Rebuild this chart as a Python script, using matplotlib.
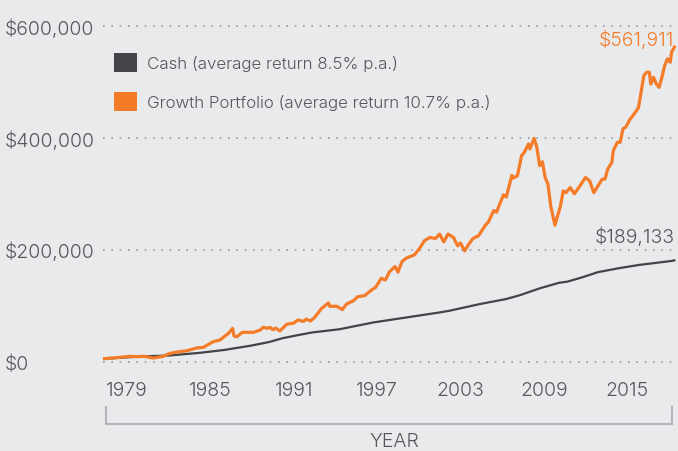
import matplotlib.pyplot as plt
from matplotlib.patches import Patch
from matplotlib.lines import Line2D
from matplotlib.ticker import FuncFormatter

# Growth portfolio (years, value in $k)
growth_years = [1977.25, 1977.8, 1978.4, 1979.2, 1979.7, 1980.2, 1980.9, 1981.6, 1982.1, 1982.8,
                1983.3, 1984.0, 1984.5, 1985.2, 1985.7, 1986.3, 1986.6, 1986.7, 1986.9, 1987.3,
                1988.1, 1988.6, 1988.8, 1989.1, 1989.3, 1989.5, 1989.7, 1990.0, 1990.5, 1991.0,
                1991.3, 1991.7, 1991.9, 1992.2, 1992.5, 1993.0, 1993.5, 1993.6, 1994.1, 1994.5,
                1994.8, 1995.3, 1995.6, 1996.1, 1996.6, 1996.9, 1997.3, 1997.6, 1997.9, 1998.3,
                1998.5, 1998.8, 1999.1, 1999.5, 1999.7, 2000.1, 2000.4, 2000.8, 2001.2, 2001.5,
                2001.8, 2002.1, 2002.5, 2002.8, 2003.0, 2003.3, 2003.6, 2003.9, 2004.3, 2004.8,
                2005.0, 2005.4, 2005.6, 2005.8, 2006.1, 2006.3, 2006.7, 2006.8, 2007.1, 2007.4,
                2007.6, 2007.9, 2008.0, 2008.3, 2008.5, 2008.7, 2008.9, 2009.1, 2009.3, 2009.5,
                2009.8, 2010.2, 2010.4, 2010.6, 2010.9, 2011.2, 2011.6, 2012.0, 2012.3, 2012.6,
                2012.8, 2013.2, 2013.4, 2013.6, 2013.9, 2014.0, 2014.3, 2014.5, 2014.7, 2014.9,
                2015.2, 2015.4, 2015.8, 2015.9, 2016.2, 2016.4, 2016.6, 2016.7, 2016.9, 2017.1,
                2017.3, 2017.5, 2017.7, 2017.9, 2018.1, 2018.2, 2018.4]
growth_k = [5, 6.5, 7.5, 9.6, 9.0, 9.6, 6.6, 9.6, 15, 18,
            19.6, 24.5, 25.7, 35.7, 39, 50.7, 59.6, 46, 44.6, 52.5,
            52.5, 56.6, 61.4, 59.6, 61.4, 57, 60, 55, 67, 69,
            74.5, 72, 76, 72.7, 79, 95, 105, 99, 99, 93,
            103, 109, 116, 118, 128, 133, 149, 146, 161, 170,
            160, 179, 185, 189, 191, 204, 216, 222, 220, 228,
            214, 228, 222, 207, 212, 198, 210, 220, 225, 244,
            249, 270, 267, 280, 298, 294, 333, 328, 332, 368,
            374, 389, 380, 399, 383, 350, 357, 329, 317, 278,
            244, 278, 305, 302, 311, 300, 314, 329, 323, 302,
            310, 326, 326, 344, 356, 377, 392, 392, 416, 419,
            433, 439, 453, 466, 511, 517, 517, 496, 508, 496,
            490, 508, 529, 541, 535, 553, 561.911]

# Cash (years, value in $k)
cash_years = [1977.25, 1978.5, 1979.5, 1980.7, 1982.0, 1984.3, 1986.0, 1987.9, 1989.2, 1990.2,
              1991.3, 1992.4, 1994.3, 1996.7, 1999.1, 2001.5, 2002.2, 2004.4, 2006.3, 2007.3,
              2008.7, 2010.1, 2010.7, 2011.8, 2012.9, 2014.4, 2015.9, 2016.9, 2018.2, 2018.4]
cash_k = [5, 7, 8.5, 10, 11, 16, 21, 28.6, 35, 42,
          47.5, 52.5, 58, 70, 79, 88, 91, 103, 112, 119,
          131, 141, 143, 151, 160, 167, 173, 176, 180, 181]

year_ticks = [1979, 1985, 1991, 1997, 2003, 2009, 2015]
value_ticks = [0, 200000, 400000, 600000]
labels = ["Cash (average return 8.5% p.a.)", "Growth Portfolio (average return 10.7% p.a.)"]

bg = "#e9eaec"
orange = "#f47b28"
dark = "#434447"
txt = "#56575a"

plt.rcParams['font.family'] = ['Inter', 'DejaVu Sans']
plt.rcParams['font.weight'] = 300

W, H = 678, 452
fig = plt.figure(figsize=(W / 100, H / 100), dpi=100, facecolor=bg)
ax = fig.add_axes([103 / W, (H - 372) / H, (W - 103) / W, 362 / H])
ax.set_facecolor(bg)

ax.plot(cash_years, [v * 1000 for v in cash_k], color=dark, lw=1.6, zorder=3)
ax.plot(growth_years, [v * 1000 for v in growth_k], color=orange, lw=2.3, zorder=4)

ax.set_xlim(1977.27, 2018.66)
ax.set_ylim(-16600, 630000)

ax.set_yticks(value_ticks)
ax.yaxis.set_major_formatter(FuncFormatter(lambda v, p: "${:,.0f}".format(v)))
ax.tick_params(axis='y', length=0, pad=70.6, labelsize=14, labelcolor=txt)
for lbl in ax.get_yticklabels():
    lbl.set_ha('left')

ax.set_xticks(year_ticks)
ax.tick_params(axis='x', length=0, pad=7, labelsize=14, labelcolor=txt)

ax.grid(axis='y', color='#9a9b9e', lw=1.2, linestyle=(0, (1, 4)))
ax.grid(axis='x', visible=False)
for s in ax.spines.values():
    s.set_visible(False)

# end value labels
ax.annotate("${:,.0f}".format(growth_k[-1] * 1000), (growth_years[-1], growth_k[-1] * 1000),
            xytext=(0, -1), textcoords='offset points', ha='right', va='bottom',
            color=orange, fontsize=14)
ax.annotate("$189,133", (cash_years[-1], cash_k[-1] * 1000),
            xytext=(0, 10), textcoords='offset points', ha='right', va='bottom',
            color=txt, fontsize=14)

# legend
handles = [Patch(facecolor=dark, edgecolor='none'), Patch(facecolor=orange, edgecolor='none')]
leg = fig.legend(handles, labels, loc='upper left', bbox_to_anchor=(114 / W, 1 - 54 / H),
                 frameon=False, fontsize=12.2, handlelength=1.37, handleheight=1.37,
                 handletextpad=0.55, labelspacing=1.15, borderpad=0, borderaxespad=0)
for t in leg.get_texts():
    t.set_color(txt)

# bracket under the year axis
bc = '#b4b5b8'
fig.add_artist(Line2D([106 / W, 672 / W], [1 - 425 / H, 1 - 425 / H], color=bc, lw=1.5))
fig.add_artist(Line2D([106 / W, 106 / W], [1 - 408 / H, 1 - 425 / H], color=bc, lw=1.5))
fig.add_artist(Line2D([672 / W, 672 / W], [1 - 408 / H, 1 - 425 / H], color=bc, lw=1.5))
fig.text(394 / W, 1 - 442 / H, "YEAR", ha='center', va='center', fontsize=14, color=txt)

fig.savefig("out.png", dpi=100, facecolor=bg)
